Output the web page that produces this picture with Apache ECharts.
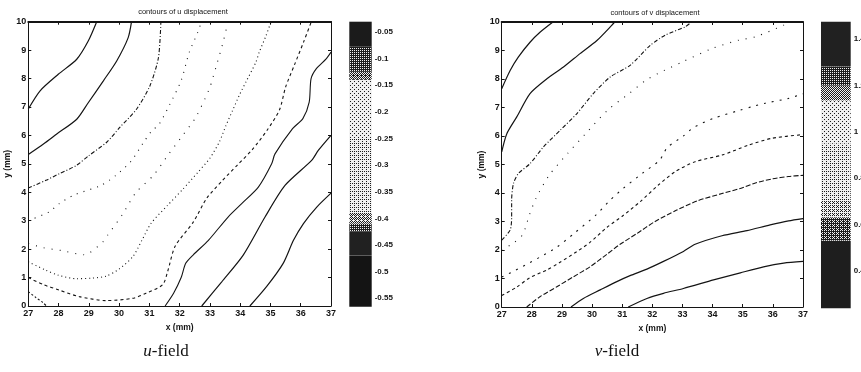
<!DOCTYPE html>
<html>
<head>
<meta charset="utf-8">
<script src="https://cdn.jsdelivr.net/npm/echarts@6/dist/echarts.min.js"></script>
<style>
  html, body { margin: 0; background: #fff; }
  #chart { width: 861px; height: 372px; }
</style>
</head>
<body>
<div id="chart"></div>
<script>
// ---- u displacement contours (x mm, y mm) ----
let uA = [[27,6.93],[27.39,7.57],[27.99,8.15],[28.6,8.68],[28.98,9.32],[29.26,10]];
let uB = [[27,5.33],[27.5,5.7],[27.94,6.05],[28.6,6.57],[28.98,7.15],[29.48,7.92],[29.92,8.62],[30.3,9.44],[30.41,10]];
let uC = [[27,4.15],[27.58,4.42],[28.02,4.65],[28.58,4.94],[29.0,5.29],[29.59,5.76],[30.03,6.29],[30.58,6.93],[31.02,7.75],[31.3,8.74],[31.38,10]];
let uD = [[27,3.0],[27.69,3.31],[28.02,3.6],[28.5,3.9],[29.4,4.24],[29.9,4.6],[30.4,5.1],[30.78,5.71],[31.05,6.12],[31.33,6.41],[31.66,7.06],[32.05,7.93],[32.32,8.93],[32.6,9.63],[32.72,10]];
let uE = [[27,2.2],[27.5,2.05],[28.1,1.95],[28.85,1.8],[29.46,2.25],[29.62,2.49],[30.1,3.2],[30.56,4.0],[31.13,4.59],[31.63,5.33],[32.1,6.0],[32.54,6.65],[32.98,7.64],[33.2,8.4],[33.42,9.22],[33.6,10]];
let uF = [[27,1.55],[27.58,1.26],[28.0,1.08],[28.58,0.96],[29.1,0.98],[29.57,1.05],[30.0,1.3],[30.45,1.73],[30.75,2.3],[31.05,2.9],[31.6,3.54],[32.1,4.1],[32.6,4.7],[33.0,5.2],[33.31,5.77],[33.53,6.35],[33.75,6.88],[33.97,7.41],[34.19,7.88],[34.52,8.58],[34.63,8.93],[34.85,9.5],[35.02,10]];
let uG = [[27,1.0],[27.5,0.75],[28.02,0.56],[28.68,0.33],[29.57,0.19],[30.45,0.27],[30.89,0.45],[31.44,0.75],[31.6,1.2],[31.85,2.1],[32.45,2.95],[32.9,3.8],[33.4,4.4],[33.9,4.95],[34.4,5.5],[34.9,6.2],[35.3,6.9],[35.5,7.7],[35.8,8.5],[36.1,9.3],[36.35,10]];
let uH = [[27,0.5],[27.25,0.3],[27.48,0.12],[27.6,0]];
let uI = [[31.52,0],[31.8,0.45],[32.05,1.0],[32.2,1.5],[32.45,1.8],[32.95,2.31],[33.6,3.13],[34.05,3.6],[34.6,4.18],[35.04,5.0],[35.15,5.35],[35.73,6.24],[36.07,6.59],[36.28,7.17],[36.34,7.99],[36.51,8.34],[36.84,8.69],[37,8.93]];
let uJ = [[32.73,0],[33.39,0.85],[34.1,1.79],[34.82,3.13],[35.48,4.24],[36.36,5.12],[36.58,5.47],[37,6.0]];
let uK = [[34.32,0],[34.87,0.68],[35.42,1.5],[35.76,2.31],[36.09,2.9],[36.53,3.48],[37,3.97]];

// ---- v displacement contours ----
let vA = [[27,7.66],[27.28,8.3],[27.55,8.77],[27.94,9.29],[28.27,9.64],[28.7,10]];
let vB = [[27,5.44],[27.17,6.08],[27.5,6.67],[27.94,7.49],[28.5,8.01],[29.05,8.42],[29.6,8.89],[30.16,9.35],[30.65,9.88],[30.75,10]];
let vC = [[27,2.35],[27.28,2.7],[27.33,3.16],[27.33,3.75],[27.39,4.33],[27.55,4.68],[27.94,5.03],[28.38,5.61],[28.94,6.2],[29.49,6.78],[30.04,7.49],[30.6,8.07],[31.26,8.48],[31.93,9.18],[32.43,9.54],[33.09,9.83],[33.3,10]];
let vD = [[27,2.0],[27.4,2.25],[27.7,2.55],[27.92,3.23],[28.14,3.82],[28.58,4.63],[29.19,5.39],[29.75,6.04],[30.52,6.91],[31.24,7.5],[31.79,7.96],[32.2,8.2],[33.0,8.6],[33.98,9.07],[34.86,9.36],[35.42,9.48],[36.36,9.89],[36.5,10]];
let vE = [[27,1.05],[27.39,1.25],[27.83,1.5],[28.27,1.75],[28.83,2.1],[29.41,2.59],[30.13,3.23],[30.6,3.75],[31.02,4.15],[31.68,4.7],[32.24,5.15],[32.5,5.6],[33.03,6.0],[33.37,6.3],[34.03,6.62],[34.92,6.91],[35.31,7.03],[35.75,7.15],[36.52,7.32],[37,7.48]];
let vF = [[27,0.4],[27.5,0.7],[27.92,1.02],[28.5,1.3],[28.91,1.55],[29.5,1.95],[29.91,2.25],[30.5,2.8],[31.02,3.2],[31.6,3.7],[32.2,4.28],[32.76,4.75],[33.42,5.1],[34.31,5.33],[35.19,5.68],[35.97,5.92],[37,6.05]];
let vG = [[27.83,0],[28.27,0.36],[28.83,0.71],[29.38,1.06],[29.93,1.41],[30.49,1.85],[30.93,2.2],[31.49,2.58],[32.09,3.0],[32.81,3.4],[33.48,3.72],[34.31,3.98],[34.92,4.16],[35.42,4.35],[36.0,4.5],[36.52,4.58],[37,4.62]];
let vH = [[29.3,0],[29.71,0.3],[30.27,0.6],[30.82,0.89],[31.26,1.1],[31.82,1.33],[32.37,1.6],[33.03,1.95],[33.42,2.2],[34.31,2.5],[35.14,2.68],[35.91,2.88],[36.52,3.02],[37,3.1]];
let vI = [[31.2,0],[31.82,0.3],[32.37,0.48],[33.03,0.65],[34.03,0.95],[34.92,1.2],[35.69,1.41],[36.36,1.54],[37,1.6]];

// ---- colour bars: band edges (value) and grey level of each band (0 black .. 1 white) ----
let uBarEdges = [-0.566, -0.47, -0.425, -0.41, -0.39, -0.25, -0.14, -0.125, -0.078, -0.031];
let uBarShades = [0.04, 0.12, 0.28, 0.55, 0.8, 0.86, 0.42, 0.22, 0.08];
let vBarEdges = [0.238, 0.53, 0.63, 0.704, 0.95, 1.136, 1.2, 1.282, 1.476];
let vBarShades = [0.1, 0.34, 0.66, 0.8, 0.86, 0.47, 0.24, 0.12];

const ink = "#141414";
const font = "Liberation Sans";

let chart = echarts.init(document.getElementById("chart"));

function bands(edges) {
  let out = [];
  for (let i = 0; i < edges.length - 1; i++) out.push([edges[i], edges[i + 1]]);
  return out;
}

// 抖动纹理，模仿扫描图上颜色条的网点；很暗的色段直接用实色
const bayer = [[0, 8, 2, 10], [12, 4, 14, 6], [3, 11, 1, 9], [15, 7, 13, 5]];
function stipple(level) {
  if (level < 0.15) {
    let g = Math.round(14 + level * 160);
    return "rgb(" + g + "," + g + "," + g + ")";
  }
  let cv = document.createElement("canvas");
  cv.width = 4;
  cv.height = 4;
  let ctx = cv.getContext("2d");
  for (let r = 0; r < 4; r++) {
    for (let c = 0; c < 4; c++) {
      ctx.fillStyle = (bayer[r][c] + 0.5) / 16 < level ? "#efefef" : "#1c1c1c";
      ctx.fillRect(c, r, 1, 1);
    }
  }
  return { image: cv, repeat: "repeat" };
}

function plotAxes(grid, xName, yName, xGap, yGap) {
  let lbl = { fontSize: 9, fontFamily: font, fontWeight: "bold", color: ink };
  let nm = { fontSize: 8.5, fontFamily: font, fontWeight: "bold", color: ink };
  return {
    x: [
      { type: "value", gridIndex: grid, min: 27, max: 37, interval: 1, position: "bottom",
        name: xName, nameLocation: "middle", nameGap: xGap, nameTextStyle: nm,
        axisLine: { onZero: false, lineStyle: { color: ink, width: 1 } },
        axisTick: { inside: true, length: 3, lineStyle: { color: ink } },
        axisLabel: Object.assign({ margin: 3 }, lbl), splitLine: { show: false } },
      { type: "value", gridIndex: grid, min: 27, max: 37, interval: 1, position: "top",
        axisLine: { onZero: false, lineStyle: { color: ink, width: 2 } },
        axisTick: { inside: true, length: 3, lineStyle: { color: ink } },
        axisLabel: { show: false }, splitLine: { show: false } },
    ],
    y: [
      { type: "value", gridIndex: grid, min: 0, max: 10, interval: 1, position: "left",
        name: yName, nameLocation: "middle", nameGap: yGap, nameRotate: 90, nameTextStyle: nm,
        axisLine: { onZero: false, lineStyle: { color: ink, width: 1 } },
        axisTick: { inside: true, length: 3, lineStyle: { color: ink } },
        axisLabel: Object.assign({ margin: 2 }, lbl), splitLine: { show: false } },
      { type: "value", gridIndex: grid, min: 0, max: 10, interval: 1, position: "right",
        axisLine: { onZero: false, lineStyle: { color: ink, width: 1 } },
        axisTick: { inside: true, length: 3, lineStyle: { color: ink } },
        axisLabel: { show: false }, splitLine: { show: false } },
    ],
  };
}

function barAxes(grid, min, max, step, lo, hi, dec) {
  return {
    x: { type: "value", gridIndex: grid, min: 0, max: 1, show: false },
    y: { type: "value", gridIndex: grid, min: min, max: max, interval: step, position: "right",
      axisLine: { show: false, onZero: false }, axisTick: { show: false }, splitLine: { show: false },
      axisLabel: { margin: 3, fontSize: 8, fontFamily: font, fontWeight: "bold", color: ink,
        formatter: function (v) {
          let k = Math.round(v / step);
          if (Math.abs(v - k * step) > 1e-6 || v < lo || v > hi) return "";
          return String(+(k * step).toFixed(dec));
        } } },
  };
}

let uAx = plotAxes(0, "x (mm)", "y (mm)", 12, 13);
let uBar = barAxes(1, -0.6, -0.031, 0.05, -0.566, -0.031, 2);
let vAx = plotAxes(2, "x (mm)", "y (mm)", 13, 14);
let vBar = barAxes(3, 0.2, 1.476, 0.2, 0.238, 1.476, 1);

function contour(data, xi, yi, dash, width) {
  return {
    type: "line", xAxisIndex: xi, yAxisIndex: yi, data: data,
    symbol: "none", smooth: 0.25, silent: true, animation: false, z: 3,
    lineStyle: { color: ink, width: width || 1.1, type: dash },
  };
}

function colourBar(edges, shades, xi, yi) {
  let fills = shades.map(stipple);
  return {
    type: "custom", xAxisIndex: xi, yAxisIndex: yi, data: bands(edges),
    encode: { y: [0, 1] }, silent: true, animation: false,
    renderItem: function (params, api) {
      let p0 = api.coord([0, api.value(1)]);
      let p1 = api.coord([1, api.value(0)]);
      return { type: "rect",
        shape: { x: p0[0], y: p0[1], width: p1[0] - p0[0], height: p1[1] - p0[1] },
        style: { fill: fills[params.dataIndex] } };
    },
  };
}

let option = {
  backgroundColor: "#fff",
  animation: false,
  grid: [
    { left: 28.3, top: 21.7, width: 302.7, height: 284.3, outerBoundsMode: "none", containLabel: false },
    { left: 349.3, top: 21.7, width: 22.4, height: 303.2, outerBoundsMode: "none", containLabel: false },
    { left: 501.7, top: 22, width: 301.3, height: 285, outerBoundsMode: "none", containLabel: false },
    { left: 821, top: 21.7, width: 29.7, height: 295.3, outerBoundsMode: "none", containLabel: false },
  ],
  xAxis: [uAx.x[0], uAx.x[1], uBar.x, vAx.x[0], vAx.x[1], vBar.x],
  yAxis: [uAx.y[0], uAx.y[1], uBar.y, vAx.y[0], vAx.y[1], vBar.y],
  graphic: [
    { type: "text", x: 183, y: 12, style: { text: "contours of u displacement", fontSize: 7.5,
      fontFamily: font, fill: ink, textAlign: "center", textVerticalAlign: "middle" } },
    { type: "text", x: 655, y: 13, style: { text: "contours of v displacement", fontSize: 7.5,
      fontFamily: font, fill: ink, textAlign: "center", textVerticalAlign: "middle" } },
    { type: "text", x: 166, y: 352, style: { text: "{i|u}-field", fontSize: 17,
      fontFamily: "Liberation Serif", fill: "#111", textAlign: "center", textVerticalAlign: "middle",
      rich: { i: { fontStyle: "italic", fontSize: 17, fontFamily: "Liberation Serif" } } } },
    { type: "text", x: 617, y: 352, style: { text: "{i|v}-field", fontSize: 17,
      fontFamily: "Liberation Serif", fill: "#111", textAlign: "center", textVerticalAlign: "middle",
      rich: { i: { fontStyle: "italic", fontSize: 17, fontFamily: "Liberation Serif" } } } },
  ],
  series: [
    contour(uA, 0, 0, "solid", 1.2),
    contour(uB, 0, 0, "solid", 1.2),
    contour(uC, 0, 0, [4, 2, 1, 2]),
    contour(uD, 0, 0, [1, 6]),
    contour(uE, 0, 0, [1, 7]),
    contour(uF, 0, 0, [1, 3]),
    contour(uG, 0, 0, [3, 3]),
    contour(uH, 0, 0, [2, 2]),
    contour(uI, 0, 0, "solid", 1.1),
    contour(uJ, 0, 0, "solid", 1.2),
    contour(uK, 0, 0, "solid", 1.2),
    colourBar(uBarEdges, uBarShades, 2, 2),
    contour(vA, 3, 3, "solid", 1.2),
    contour(vB, 3, 3, "solid", 1.2),
    contour(vC, 3, 3, [4, 2, 1, 2]),
    contour(vD, 3, 3, [1, 7]),
    contour(vE, 3, 3, [2, 6]),
    contour(vF, 3, 3, [3, 3]),
    contour(vG, 3, 3, [5, 2]),
    contour(vH, 3, 3, "solid", 1.2),
    contour(vI, 3, 3, "solid", 1.2),
    colourBar(vBarEdges, vBarShades, 5, 5),
  ],
};

chart.setOption(option);
</script>
</body>
</html>
